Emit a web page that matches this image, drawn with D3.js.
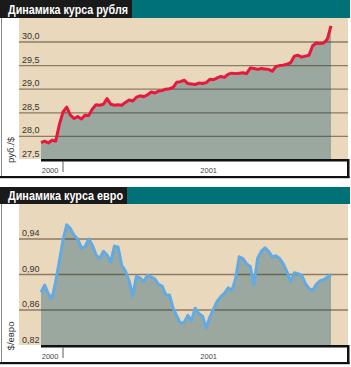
<!DOCTYPE html>
<html>
<head>
<meta charset="utf-8">
<script src="https://cdn.jsdelivr.net/npm/d3@7"></script>
<style>
  body { margin: 0; background: #fff; }
  text { font-family: "Liberation Sans", Arial, sans-serif; }
</style>
</head>
<body>
<svg id="canvas" width="351" height="367"></svg>
<script>
// ************************************************************************************** //
// Data (one value every 5 days, 2 Dec 2000 .. 1 Jan 2002)

var start_date = new Date(2000, 11, 2);
var end_date = new Date(2002, 0, 1);
var step_days = 5;

var rub_values = [
  27.87, 27.90, 27.86, 27.92, 27.90, 28.25, 28.52, 28.62, 28.45, 28.38,
  28.42, 28.37, 28.45, 28.44, 28.58, 28.67, 28.66, 28.68, 28.80, 28.68,
  28.66, 28.67, 28.66, 28.72, 28.77, 28.75, 28.83, 28.86, 28.84, 28.88,
  28.94, 28.92, 28.96, 28.97, 29.00, 29.01, 29.04, 29.15, 29.16, 29.19,
  29.12, 29.11, 29.10, 29.13, 29.12, 29.14, 29.21, 29.20, 29.24, 29.27,
  29.25, 29.32, 29.34, 29.33, 29.34, 29.35, 29.33, 29.45, 29.44, 29.42,
  29.44, 29.43, 29.42, 29.38, 29.48, 29.50, 29.51, 29.53, 29.56, 29.70,
  29.72, 29.68, 29.70, 29.72, 29.92, 29.98, 29.97, 29.98, 30.06, 30.34
];

var eur_values = [
  0.880, 0.888, 0.878, 0.873, 0.892, 0.915, 0.939, 0.956, 0.952, 0.944,
  0.940, 0.930, 0.931, 0.940, 0.933, 0.922, 0.918, 0.926, 0.922, 0.914,
  0.932, 0.931, 0.910, 0.904, 0.893, 0.876, 0.898, 0.896, 0.892, 0.899,
  0.897, 0.895, 0.889, 0.887, 0.877, 0.877, 0.862, 0.853, 0.845, 0.846,
  0.854, 0.848, 0.862, 0.856, 0.853, 0.840, 0.852, 0.861, 0.870, 0.875,
  0.879, 0.885, 0.882, 0.895, 0.920, 0.918, 0.912, 0.909, 0.888, 0.918,
  0.926, 0.930, 0.926, 0.920, 0.921, 0.918, 0.912, 0.903, 0.892, 0.902,
  0.901, 0.899, 0.890, 0.884, 0.882, 0.889, 0.893, 0.894, 0.897, 0.900
];

var rub_ticks = [27.5, 28.0, 28.5, 29.0, 29.5, 30.0];
var eur_ticks = [0.82, 0.86, 0.90, 0.94];

var year_labels = ["2000", "2001"];
var year_label_dates = [new Date(2000, 11, 3), new Date(2001, 6, 7)];
var year_tick_dates = [new Date(2001, 0, 1)];

var dates = d3.timeDay.range(start_date, d3.timeDay.offset(end_date, 1), step_days);

// ************************************************************************************** //
// Panel

var svg = d3.select('#canvas');
var xScale = d3.scaleTime().domain([start_date, end_date]).range([41, 331]);

function drawPanel(p) {
  var g = svg.append('g').attr('transform', 'translate(0,' + p.top + ')');
  var yScale = d3.scaleLinear().domain(p.domain).range(p.range);
  var data = p.values.map(function(v, i) { return { d: dates[i], v: v }; });

  // title bar
  g.append('rect').attr('x', 0).attr('y', 0).attr('width', 350).attr('height', p.titleH).attr('fill', '#007176');
  g.append('rect').attr('x', 0).attr('y', 0).attr('width', p.titleW).attr('height', p.titleH).attr('fill', '#1a1a1a');
  g.append('text').attr('x', 8).attr('y', p.titleH - 4)
    .attr('font-size', 12.5).attr('font-weight', 'bold').attr('fill', '#fff')
    .attr('textLength', p.titleW - 12).attr('lengthAdjust', 'spacingAndGlyphs')
    .text(p.title);

  // plot background
  g.append('rect').attr('x', 19).attr('y', p.titleH).attr('width', 329).attr('height', p.axisY - p.titleH).attr('fill', '#ead8bc');

  // area under curve
  var area = d3.area().x(function(d) { return xScale(d.d); }).y0(p.axisY).y1(function(d) { return yScale(d.v); });
  g.append('path').datum(data).attr('d', area).attr('fill', '#9ba8a0');

  // grid lines
  p.ticks.slice(1).forEach(function(t) {
    g.append('line').attr('x1', 19).attr('x2', 348).attr('y1', yScale(t)).attr('y2', yScale(t))
      .attr('stroke', 'rgba(60,50,30,0.55)').attr('stroke-width', 1.3);
  });

  // series line
  var line = d3.line().x(function(d) { return xScale(d.d); }).y(function(d) { return yScale(d.v); });
  g.append('path').datum(data).attr('d', line).attr('fill', 'none')
    .attr('stroke', p.color).attr('stroke-width', 3).attr('stroke-linejoin', 'round');

  // tick labels
  p.ticks.forEach(function(t) {
    g.append('text').attr('x', 22).attr('y', yScale(t) - 3).attr('font-size', 9).attr('fill', '#333')
      .text(p.format(t).replace('.', ','));
  });

  // unit label
  g.append('text').attr('transform', 'translate(14,' + p.unitY + ') rotate(-90)')
    .attr('text-anchor', 'middle').attr('font-size', 9.5).attr('fill', '#333').text(p.unit);

  // bottom strip with frame
  g.append('rect').attr('x', 41).attr('y', p.axisY).attr('width', 308).attr('height', 2.5).attr('fill', '#111');
  g.append('rect').attr('x', 347).attr('y', p.axisY).attr('width', 2.5).attr('height', p.bottomY - p.axisY + 2).attr('fill', '#111');
  g.append('rect').attr('x', 0).attr('y', p.bottomY).attr('width', 349.5).attr('height', 2.2).attr('fill', '#111');
  g.append('line').attr('x1', 1.5).attr('x2', 1.5).attr('y1', p.titleH).attr('y2', p.bottomY)
    .attr('stroke', '#888').attr('stroke-width', 1);

  // year ticks and labels
  year_tick_dates.forEach(function(d) {
    g.append('line').attr('x1', xScale(d)).attr('x2', xScale(d)).attr('y1', p.axisY + 2.5).attr('y2', p.axisY + 13)
      .attr('stroke', '#333').attr('stroke-width', 0.8);
  });
  year_labels.forEach(function(lbl, i) {
    g.append('text').attr('x', xScale(year_label_dates[i])).attr('y', p.axisY + 14)
      .attr('font-size', 7.5).attr('fill', '#444').text(lbl);
  });
}

// ************************************************************************************** //
// Create

drawPanel({
  top: 0, titleH: 18, titleW: 132, axisY: 159, bottomY: 176,
  title: 'Динамика курса рубля', unit: 'руб./$', unitY: 150,
  values: rub_values, ticks: rub_ticks, domain: [27.5, 30.0], range: [160, 42],
  format: d3.format('.1f'), color: '#e8183c'
});

drawPanel({
  top: 187, titleH: 17, titleW: 127, axisY: 158, bottomY: 175,
  title: 'Динамика курса евро', unit: '$/евро', unitY: 149,
  values: eur_values, ticks: eur_ticks, domain: [0.82, 0.94], range: [158.5, 52],
  format: d3.format('.2f'), color: '#62aae4'
});
</script>
</body>
</html>
